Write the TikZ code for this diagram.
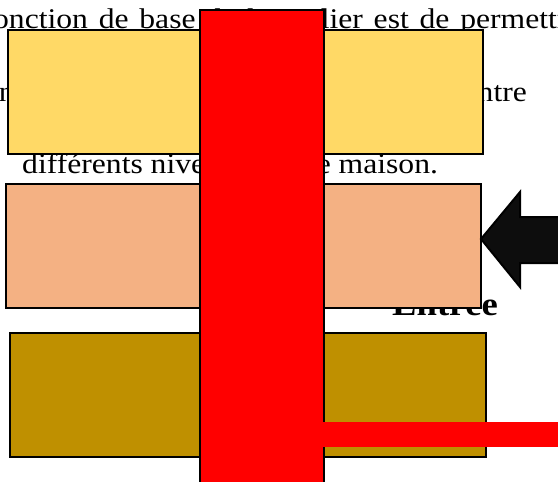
\documentclass[tikz,border=0pt]{standalone}
\usepackage{fontspec}
\setmainfont{Liberation Serif}
\usepackage{xcolor}
\usepackage{tikz}
\usetikzlibrary{positioning}
\definecolor{niveauA}{HTML}{FFD966}
\definecolor{niveauB}{HTML}{F4B183}
\definecolor{niveauC}{HTML}{BF9000}
\definecolor{noirFleche}{HTML}{0D0D0D}
\newcommand{\wide}[1]{\scalebox{1.11}[1]{#1}}

\begin{document}
\begin{tikzpicture}[
    x=1pt, y=1pt,
    nblk/.style={rectangle, draw=black, fill=#1, line width=2pt,
                 minimum width=475pt, minimum height=124pt,
                 inner sep=0pt, anchor=north west},
    txt/.style={anchor=base west, inner sep=0pt, font=\fontsize{28.5}{34}\selectfont},
    escal/.style={rectangle, draw=black, fill=red, line width=2pt,
                  minimum width=124pt, minimum height=490pt,
                  inner sep=0pt, anchor=north west},
    palier/.style={rectangle, fill=red, minimum width=240pt, minimum height=25pt,
                   inner sep=0pt, anchor=north west},
    fleche/.style={draw=black, fill=noirFleche, line width=2pt, line join=miter}
  ]
  \useasboundingbox (0,0) rectangle (558,-482);
  \clip (0,0) rectangle (558,-482);

  % texte de fond
  \node[txt] (ligne1) at (-17.6,-28)
    {\spaceskip=9.7pt\relax\wide{fonction de base de l'escalier est de permettre}};
  \node[txt, anchor=base east] (ligne2) at (527,-101) {\wide{à chacun de passer facilement et en sécurité entre}};
  \node[txt] (ligne3) at (22,-173)  {\wide{différents niveaux d'une maison.}};
  \node[anchor=base west, inner sep=0pt, font=\fontsize{33}{38}\selectfont\bfseries]
    (entree) at (392,-315) {\wide{Entrée}};

  % niveaux
  \node[nblk=niveauA] (niv1) at (7,-29)  {};
  \node[nblk=niveauB] (niv2) at (5,-183) {};
  \node[nblk=niveauC, minimum width=476pt] (niv3) at (9,-332) {};

  % escalier
  \node[escal] (escalier) at (199,-9) {};
  \node[palier] (sortie) at (321,-422) {};

  \draw[fleche] (481,-239) -- (520,-192) -- (520,-217) -- (565,-217)
    -- (565,-263) -- (520,-263) -- (520,-287) -- cycle;
\end{tikzpicture}
\end{document}
